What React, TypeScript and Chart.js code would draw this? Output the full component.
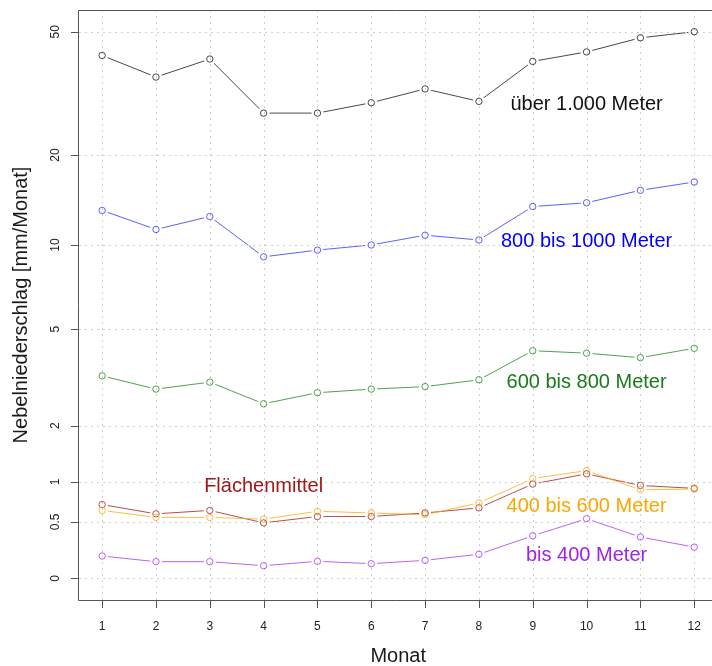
import React, { useEffect, useRef } from "react";
import { Chart, registerables } from "chart.js";
Chart.register(...registerables);

const months = [1, 2, 3, 4, 5, 6, 7, 8, 9, 10, 11, 12];
const ueber1000 = [42.0, 35.8, 40.9, 27.4, 27.4, 29.6, 32.8, 29.9, 40.2, 43.1, 47.8, 50.0];
const bis1000 = [13.1, 11.3, 12.5, 9.1, 9.6, 10.0, 10.8, 10.4, 13.5, 13.9, 15.3, 16.3];
const bis800 = [3.29, 2.9, 3.1, 2.51, 2.8, 2.9, 2.97, 3.17, 4.14, 4.05, 3.89, 4.23];
const bis600 = [0.63, 0.55, 0.55, 0.53, 0.62, 0.6, 0.58, 0.72, 1.05, 1.17, 0.89, 0.9];
const bis400 = [0.174, 0.127, 0.127, 0.095, 0.13, 0.111, 0.138, 0.189, 0.358, 0.535, 0.346, 0.252];
const flaechenmittel = [0.7, 0.59, 0.63, 0.49, 0.56, 0.56, 0.6, 0.66, 0.97, 1.12, 0.95, 0.91];

const yTickValues = [0, 0.5, 1, 2, 5, 10, 20, 50];
const yTickLabels = ["0", "0.5", "1", "2", "5", "10", "20", "50"];
const xTickLabels = ["1", "2", "3", "4", "5", "6", "7", "8", "9", "10", "11", "12"];

const seriesValues = [ueber1000, bis1000, bis800, bis600, bis400, flaechenmittel];
const seriesLabels = ["über 1.000 Meter", "800 bis 1000 Meter", "600 bis 800 Meter", "400 bis 600 Meter", "bis 400 Meter", "Flächenmittel"];
const lineColors = ["rgba(40,40,40,0.85)", "rgba(40,40,255,0.75)", "rgba(34,139,34,0.8)", "rgba(255,165,0,0.75)", "rgba(160,32,240,0.7)", "rgba(165,35,35,0.8)"];
const textColors = ["#111111", "#0000ff", "#1a7a1a", "#ffa500", "#a020f0", "#a01818"];
const labelMonth = [10, 10, 10, 10, 10, 4];
const labelValue = [29.5, 10.36, 3.13, 0.7, 0.187, 0.957];

const FONT = '"Liberation Sans", Arial, Helvetica, sans-serif';
const tf = (v: number) => Math.log1p(v);

const overlayPlugin = {
  id: "overlay",
  beforeDraw(chart: any) {
    chart.$gridDone = false;
  },
  beforeDatasetDraw(chart: any, args: any) {
    const ds = chart.data.datasets[args.index];
    if (ds.kind === "marker" && !chart.$gridDone) {
      chart.$gridDone = true;
      const { ctx, chartArea } = chart;
      const xs = chart.scales.x;
      const ys = chart.scales.y;
      const right = xs.getPixelForValue(12.44);
      ctx.save();
      ctx.strokeStyle = "#cfcfcf";
      ctx.lineWidth = 1;
      ctx.setLineDash([2, 4]);
      months.forEach((m) => {
        const px = Math.round(xs.getPixelForValue(m)) + 0.5;
        ctx.beginPath();
        ctx.moveTo(px, chartArea.top);
        ctx.lineTo(px, chartArea.bottom);
        ctx.stroke();
      });
      yTickValues.forEach((v) => {
        const py = Math.round(ys.getPixelForValue(tf(v))) + 0.5;
        ctx.beginPath();
        ctx.moveTo(chartArea.left, py);
        ctx.lineTo(right, py);
        ctx.stroke();
      });
      ctx.restore();
    }
  },
  afterDatasetsDraw(chart: any) {
    const { ctx, chartArea } = chart;
    const xs = chart.scales.x;
    const ys = chart.scales.y;
    const right = xs.getPixelForValue(12.44);
    ctx.save();
    // box
    ctx.strokeStyle = "#555555";
    ctx.lineWidth = 1;
    ctx.beginPath();
    ctx.moveTo(right, chartArea.top + 0.5);
    ctx.lineTo(chartArea.left - 0.5, chartArea.top + 0.5);
    ctx.lineTo(chartArea.left - 0.5, chartArea.bottom + 0.5);
    ctx.lineTo(right, chartArea.bottom + 0.5);
    ctx.stroke();
    // y ticks
    ctx.fillStyle = "#222222";
    ctx.font = `12px ${FONT}`;
    yTickValues.forEach((v, i) => {
      const py = Math.round(ys.getPixelForValue(tf(v))) + 0.5;
      ctx.beginPath();
      ctx.moveTo(chartArea.left - 8, py);
      ctx.lineTo(chartArea.left - 0.5, py);
      ctx.stroke();
      ctx.save();
      ctx.translate(59, ys.getPixelForValue(tf(v)));
      ctx.rotate(-Math.PI / 2);
      ctx.textAlign = "center";
      ctx.textBaseline = "alphabetic";
      ctx.fillText(yTickLabels[i], 0, 0);
      ctx.restore();
    });
    // x ticks
    months.forEach((m, i) => {
      const px = Math.round(xs.getPixelForValue(m)) + 0.5;
      ctx.beginPath();
      ctx.moveTo(px, chartArea.bottom + 0.5);
      ctx.lineTo(px, chartArea.bottom + 8);
      ctx.stroke();
      ctx.textAlign = "center";
      ctx.textBaseline = "alphabetic";
      ctx.fillText(xTickLabels[i], xs.getPixelForValue(m), 629.5);
    });
    // axis titles
    ctx.font = `20px ${FONT}`;
    ctx.fillStyle = "#1a1a1a";
    ctx.textAlign = "center";
    ctx.fillText("Monat", xs.getPixelForValue(6.5), 661.5);
    ctx.save();
    ctx.translate(26.5, (chartArea.top + chartArea.bottom) / 2);
    ctx.rotate(-Math.PI / 2);
    ctx.fillText("Nebelniederschlag [mm/Monat]", 0, 0);
    ctx.restore();
    // series labels
    seriesLabels.forEach((lab, i) => {
      ctx.fillStyle = textColors[i];
      ctx.fillText(lab, xs.getPixelForValue(labelMonth[i]), ys.getPixelForValue(tf(labelValue[i])) + 7);
    });
    ctx.restore();
  },
};

export default function App() {
  const ref = useRef<HTMLCanvasElement | null>(null);
  useEffect(() => {
    if (!ref.current) return;
    const datasets: any[] = [];
    seriesValues.forEach((vals, i) => {
      const pts = months.map((m, k) => ({ x: m, y: tf(vals[k]) }));
      datasets.push({
        kind: "line",
        data: pts,
        order: 30,
        borderColor: lineColors[i],
        borderWidth: 1,
        pointRadius: 0,
        fill: false,
        tension: 0,
      });
      datasets.push({
        kind: "halo",
        data: pts,
        order: 20,
        showLine: false,
        pointRadius: 6,
        pointBackgroundColor: "#ffffff",
        pointBorderWidth: 0,
        pointBorderColor: "rgba(0,0,0,0)",
      });
      datasets.push({
        kind: "marker",
        data: pts,
        order: 10,
        showLine: false,
        pointRadius: 3.2,
        pointBackgroundColor: "rgba(0,0,0,0)",
        pointBorderWidth: 1,
        pointBorderColor: lineColors[i],
      });
    });
    const chart = new Chart(ref.current, {
      type: "line",
      data: { datasets },
      options: {
        animation: false,
        responsive: false,
        devicePixelRatio: 1,
        events: [],
        layout: { autoPadding: false, padding: { left: 79, top: 10, right: 0, bottom: 66 } },
        plugins: { legend: { display: false }, tooltip: { enabled: false } },
        scales: {
          x: { type: "linear", min: 0.57, max: 12.33, display: false },
          y: { type: "linear", min: -0.156, max: 4.088, display: false },
        },
      },
      plugins: [overlayPlugin],
    } as any);
    return () => chart.destroy();
  }, []);
  return (
    <div style={{ position: "absolute", left: 0, top: 0, width: 712, height: 666, background: "#ffffff" }}>
      <canvas ref={ref} width={712} height={666} style={{ display: "block" }} />
    </div>
  );
}
